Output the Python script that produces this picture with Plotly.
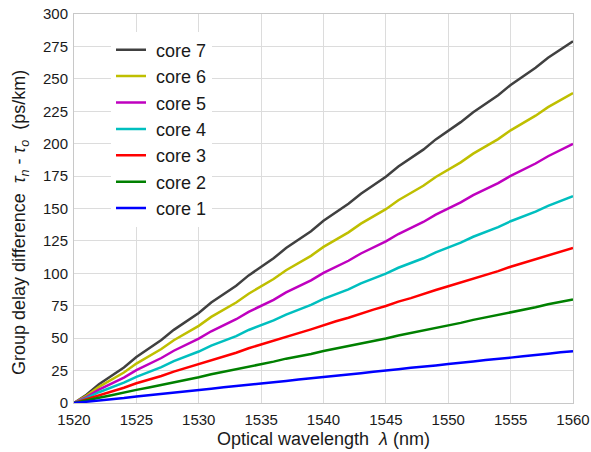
import plotly.graph_objects as go

wavelength = list(range(1520, 1561))

core1 = [0, 0.9, 2.1, 3.0, 3.9, 5.1, 6.0, 6.9, 8.0, 9.1, 9.9, 11.0, 12.1, 12.9, 14.0, 15.1, 15.9, 17.0, 18.1, 18.9,
         20.0, 21.1, 21.9, 23.0, 24.1, 24.9, 26.0, 27.1, 27.9, 29.0, 30.1, 30.9, 32.0, 33.1, 33.9, 35.0, 36.1, 36.9, 38.0, 39.1, 39.9]
core2 = [0, 1.8, 4.1, 6.0, 7.8, 10.1, 12.0, 13.9, 16.2, 17.9, 19.8, 22.1, 24.0, 25.8, 28.1, 30.0, 31.9, 34.2, 35.9, 37.8,
         40.1, 42.0, 43.8, 46.1, 47.9, 49.8, 52.1, 54.0, 55.9, 58.2, 59.9, 61.8, 64.1, 66.0, 67.8, 70.1, 71.9, 73.8, 76.1, 78.0, 79.9]
core3 = [0, 2.8, 6.2, 9.0, 11.8, 15.2, 17.9, 20.8, 24.2, 27.0, 29.8, 33.2, 35.9, 38.8, 42.2, 45.0, 47.8, 51.1, 53.9, 56.8,
         60.2, 63.0, 65.7, 69.1, 72.0, 74.8, 78.2, 80.9, 83.7, 87.1, 90.0, 92.8, 96.2, 98.9, 101.7, 105.1, 108.0, 110.8, 114.2, 116.9, 119.6]
core4 = [0, 3.7, 8.3, 12.0, 15.7, 20.2, 24.0, 27.7, 32.3, 35.9, 39.7, 44.2, 48.0, 51.6, 56.3, 60.0, 63.7, 68.2, 71.9, 75.7,
         80.3, 83.9, 87.6, 92.2, 96.0, 99.7, 104.3, 107.9, 111.6, 116.2, 120.0, 123.7, 128.2, 131.8, 135.6, 140.2, 143.9, 147.6, 152.1, 155.8, 159.5]
core5 = [0, 4.6, 10.3, 15.0, 19.6, 25.3, 29.9, 34.7, 40.3, 45.0, 49.6, 55.3, 60.0, 64.6, 70.3, 74.9, 79.6, 85.3, 90.0, 94.6,
         100.3, 104.9, 109.7, 115.3, 119.9, 124.6, 130.3, 135.0, 139.6, 145.2, 149.9, 154.7, 160.3, 164.9, 169.6, 175.2, 179.9, 184.7, 190.3, 195.0, 199.8]
core6 = [0, 5.5, 12.4, 18.0, 23.5, 30.4, 35.9, 41.6, 48.4, 54.0, 59.5, 66.4, 72.0, 77.5, 84.3, 89.9, 95.6, 102.4, 108.0, 113.5,
         120.4, 125.9, 131.6, 138.3, 143.9, 149.5, 156.4, 162.0, 167.5, 174.3, 179.8, 185.6, 192.3, 197.9, 203.5, 210.3, 215.8, 221.6, 228.2, 233.7, 239.0]
core7 = [0, 6.4, 14.5, 21.0, 27.4, 35.5, 41.9, 48.6, 56.4, 63.0, 69.4, 77.5, 84.0, 90.4, 98.4, 104.9, 111.6, 119.5, 126.0, 132.4,
         140.5, 146.9, 153.6, 161.4, 167.9, 174.5, 182.4, 189.0, 195.4, 203.3, 209.8, 216.6, 224.3, 230.9, 237.4, 245.3, 251.8, 258.6, 266.2, 272.7, 279.0]

names = ["core 7", "core 6", "core 5", "core 4", "core 3", "core 2", "core 1"]
series = [core7, core6, core5, core4, core3, core2, core1]
colors = ["#404040", "#bfbf00", "#bf00bf", "#00bfbf", "#ff0000", "#008000", "#0000ff"]

x_ticks = [1520, 1525, 1530, 1535, 1540, 1545, 1550, 1555, 1560]
y_ticks = [0, 25, 50, 75, 100, 125, 150, 175, 200, 225, 250, 275, 300]

L, R, T, B = 74, 573, 14, 403
W = R - L
H = B - T

fig = go.Figure()
for n, s, c in zip(names, series, colors):
    fig.add_trace(go.Scatter(x=wavelength, y=s, mode="lines", name="\u00a0" + n,
                             legendgroup=n,
                             line=dict(color=c, width=2.5)))

font_family = "Liberation Sans, Arial, sans-serif"
fig.update_layout(
    width=591, height=452,
    margin=dict(l=L, r=591 - R, t=T, b=452 - B, autoexpand=False),
    paper_bgcolor="white", plot_bgcolor="white",
    font=dict(family=font_family, color="#1a1a1a", size=15),
    showlegend=True,
    legend=dict(x=(111 - L) / W, y=0.955, xanchor="left", yanchor="top",
                bgcolor="rgba(255,255,255,1)", borderwidth=0,
                font=dict(size=18, family=font_family, color="#1a1a1a"),
                traceorder="grouped", tracegroupgap=0),
    xaxis=dict(range=[1520, 1560], tickvals=x_ticks, ticks="", showgrid=True,
               gridcolor="#dcdcdc", gridwidth=1, zeroline=False,
               showline=True, linecolor="#c8c8c8", mirror=True, automargin=False,
               tickfont=dict(size=15), ticklabelstandoff=3),
    yaxis=dict(range=[0, 300], tickvals=y_ticks, ticks="", showgrid=True,
               gridcolor="#dcdcdc", gridwidth=1, zeroline=False,
               showline=True, linecolor="#c8c8c8", mirror=True, automargin=False,
               tickfont=dict(size=15), ticklabelstandoff=2),
    annotations=[
        dict(text="Optical wavelength\u00a0\u00a0<i>λ</i> (nm)", xref="paper", yref="paper",
             x=(323 - L) / W, y=-(439 - B) / H, xanchor="center", yanchor="middle",
             showarrow=False, font=dict(size=18, family=font_family, color="#1a1a1a")),
        dict(text="Group delay difference\u00a0\u00a0<i>τ<sub>n</sub></i> - <i>τ<sub>o</sub></i>\u00a0\u00a0(ps/km)",
             xref="paper", yref="paper", textangle=-90,
             x=-(L - 20) / W, y=(B - 223) / H, xanchor="center", yanchor="middle",
             showarrow=False, font=dict(size=18, family=font_family, color="#1a1a1a")),
    ],
)

fig.write_html("out.html")
